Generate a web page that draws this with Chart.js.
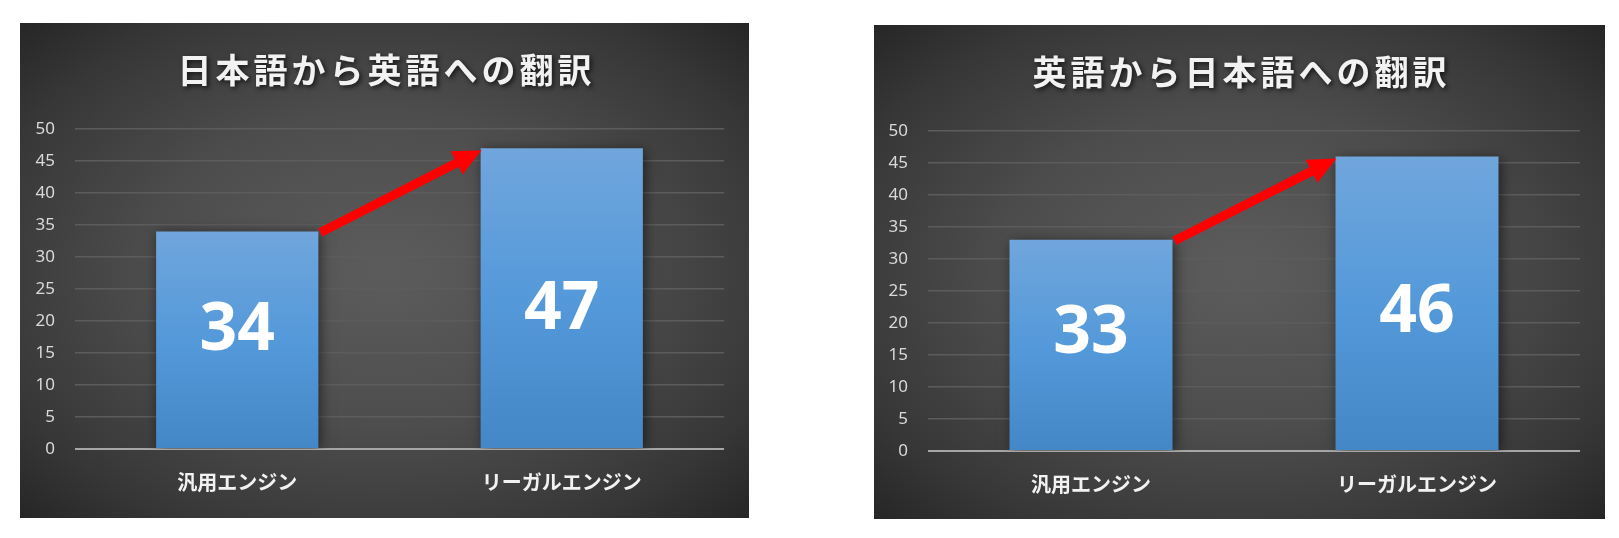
<!DOCTYPE html>
<html>
<head>
<meta charset="utf-8">
<script src="https://cdn.jsdelivr.net/npm/chart.js@4"></script>
<style>
  html, body { margin: 0; padding: 0; background: #ffffff; width: 1619px; height: 538px; overflow: hidden; }
  .panel {
    position: absolute;
    background: radial-gradient(ellipse farthest-corner at 50% 50%, #5c5c5c 0%, #4d4d4d 45%, #373737 80%, #262626 100%);
  }
  #p1 { left: 20px; top: 23px; width: 729px; height: 495px; }
  #p2 { left: 874px; top: 25px; width: 731px; height: 494px; }
  canvas { display: block; }
</style>
</head>
<body>
<div class="panel" id="p1"><canvas id="c1"></canvas></div>
<div class="panel" id="p2"><canvas id="c2"></canvas></div>
<script>
// ---- data ----
const categories = ['汎用エンジン', 'リーガルエンジン'];
const jaToEnValues = [34, 47];
const enToJaValues = [33, 46];
const titleJaToEn = '日本語から英語への翻訳';
const titleEnToJa = '英語から日本語への翻訳';
const yMin = 0;
const yMax = 50;
const yStep = 5;

// ---- plugins ----
const shadowPlugin = {
  id: 'barShadow',
  beforeDatasetsDraw(chart) {
    const ctx = chart.ctx;
    ctx.save();
    ctx.shadowColor = 'rgba(0,0,0,0.55)';
    ctx.shadowBlur = 12;
    ctx.shadowOffsetX = 2;
    ctx.shadowOffsetY = 2;
  },
  afterDatasetsDraw(chart) {
    chart.ctx.restore();
  }
};

const labelPlugin = {
  id: 'centerLabels',
  afterDatasetsDraw(chart) {
    const ctx = chart.ctx;
    const meta = chart.getDatasetMeta(0);
    const data = chart.data.datasets[0].data;
    ctx.save();
    ctx.fillStyle = '#ffffff';
    ctx.font = 'bold 66px "Noto Sans", "DejaVu Sans", sans-serif';
    ctx.textAlign = 'center';
    ctx.textBaseline = 'middle';
    meta.data.forEach((bar, i) => {
      // placed a little toward the middle of the value range, as in the original
      const h = bar.base - bar.y;
      const y = bar.base - (h * 0.25 + (bar.base - chart.scales.y.getPixelForValue(yMin + 10)));
      ctx.fillText(String(data[i]), bar.x, y);
    });
    ctx.restore();
  }
};

const arrowPlugin = {
  id: 'redArrow',
  afterDatasetsDraw(chart) {
    const ctx = chart.ctx;
    const meta = chart.getDatasetMeta(0);
    const b0 = meta.data[0], b1 = meta.data[1];
    const sx = b0.x + b0.width / 2 + 2;
    const sy = b0.y + 1;
    const ex = b1.x - b1.width / 2 + 1;
    const ey = b1.y + 2;
    const ang = Math.atan2(ey - sy, ex - sx);
    const headLen = 28, headHalf = 13, lw = 9;
    const bx = ex - headLen * Math.cos(ang);
    const by = ey - headLen * Math.sin(ang);
    ctx.save();
    ctx.strokeStyle = '#ff0000';
    ctx.fillStyle = '#ff0000';
    ctx.lineWidth = lw;
    ctx.lineCap = 'butt';
    ctx.beginPath();
    ctx.moveTo(sx, sy);
    ctx.lineTo(bx + 2 * Math.cos(ang), by + 2 * Math.sin(ang));
    ctx.stroke();
    ctx.beginPath();
    ctx.moveTo(ex, ey);
    ctx.lineTo(bx + headHalf * Math.sin(ang), by - headHalf * Math.cos(ang));
    ctx.lineTo(bx - headHalf * Math.sin(ang), by + headHalf * Math.cos(ang));
    ctx.closePath();
    ctx.fill();
    ctx.restore();
  }
};

const titlePlugin = {
  id: 'spacedTitle',
  afterDraw(chart, args, opts) {
    const ctx = chart.ctx;
    const ls = 4;
    ctx.save();
    ctx.font = 'bold 34px "Noto Sans CJK JP", sans-serif';
    ctx.letterSpacing = ls + 'px';
    ctx.textAlign = 'left';
    ctx.textBaseline = 'middle';
    const w = ctx.measureText(opts.text).width - ls;
    const x = chart.width / 2 - w / 2;
    ctx.shadowColor = 'rgba(0,0,0,0.7)';
    ctx.shadowBlur = 5;
    ctx.shadowOffsetX = 2;
    ctx.shadowOffsetY = 2;
    ctx.fillStyle = '#f2f2f2';
    ctx.fillText(opts.text, x, opts.y);
    ctx.restore();
  }
};

function barGradient(context) {
  const chart = context.chart;
  if (!chart.chartArea) return '#5b9bd5';
  const yScale = chart.scales.y;
  const v = context.raw;
  const top = yScale.getPixelForValue(v);
  const bottom = yScale.getPixelForValue(0);
  const g = chart.ctx.createLinearGradient(0, top, 0, bottom);
  g.addColorStop(0, '#70a6dc');
  g.addColorStop(0.5, '#5499da');
  g.addColorStop(1, '#4487c6');
  return g;
}

function makeChart(id, title, values, yWidth, xHeight) {
  return new Chart(document.getElementById(id), {
    type: 'bar',
    data: {
      labels: categories,
      datasets: [{
        data: values,
        backgroundColor: barGradient,
        borderWidth: 0,
        categoryPercentage: 1.0,
        barPercentage: 0.5
      }]
    },
    options: {
      responsive: true,
      maintainAspectRatio: false,
      animation: false,
      layout: { padding: { top: 106, right: 25, bottom: 0, left: 0 } },
      plugins: {
        legend: { display: false },
        tooltip: { enabled: false },
        title: { display: false },
        spacedTitle: { text: title, y: 47 }
      },
      scales: {
        x: {
          grid: { display: false, drawTicks: false },
          border: { display: false },
          ticks: {
            color: '#f2f2f2',
            padding: 21,
            font: { family: '"Noto Sans CJK JP", sans-serif', size: 20, weight: 'bold' }
          },
          afterFit(scale) { scale.height = xHeight; }
        },
        y: {
          min: yMin,
          max: yMax,
          ticks: {
            stepSize: yStep,
            color: '#d9d9d9',
            padding: 20,
            font: { family: '"Noto Sans", sans-serif', size: 17 }
          },
          grid: {
            drawTicks: false,
            color: (c) => (c.tick && c.tick.value === 0) ? '#a6a6a6' : '#5c5c5c',
            lineWidth: (c) => (c.tick && c.tick.value === 0) ? 2 : 1.5
          },
          border: { display: false },
          afterFit(scale) { scale.width = yWidth; }
        }
      }
    },
    plugins: [shadowPlugin, labelPlugin, arrowPlugin, titlePlugin]
  });
}

makeChart('c1', titleJaToEn, jaToEnValues, 55, 69);
makeChart('c2', titleEnToJa, enToJaValues, 54, 68);
</script>
</body>
</html>
